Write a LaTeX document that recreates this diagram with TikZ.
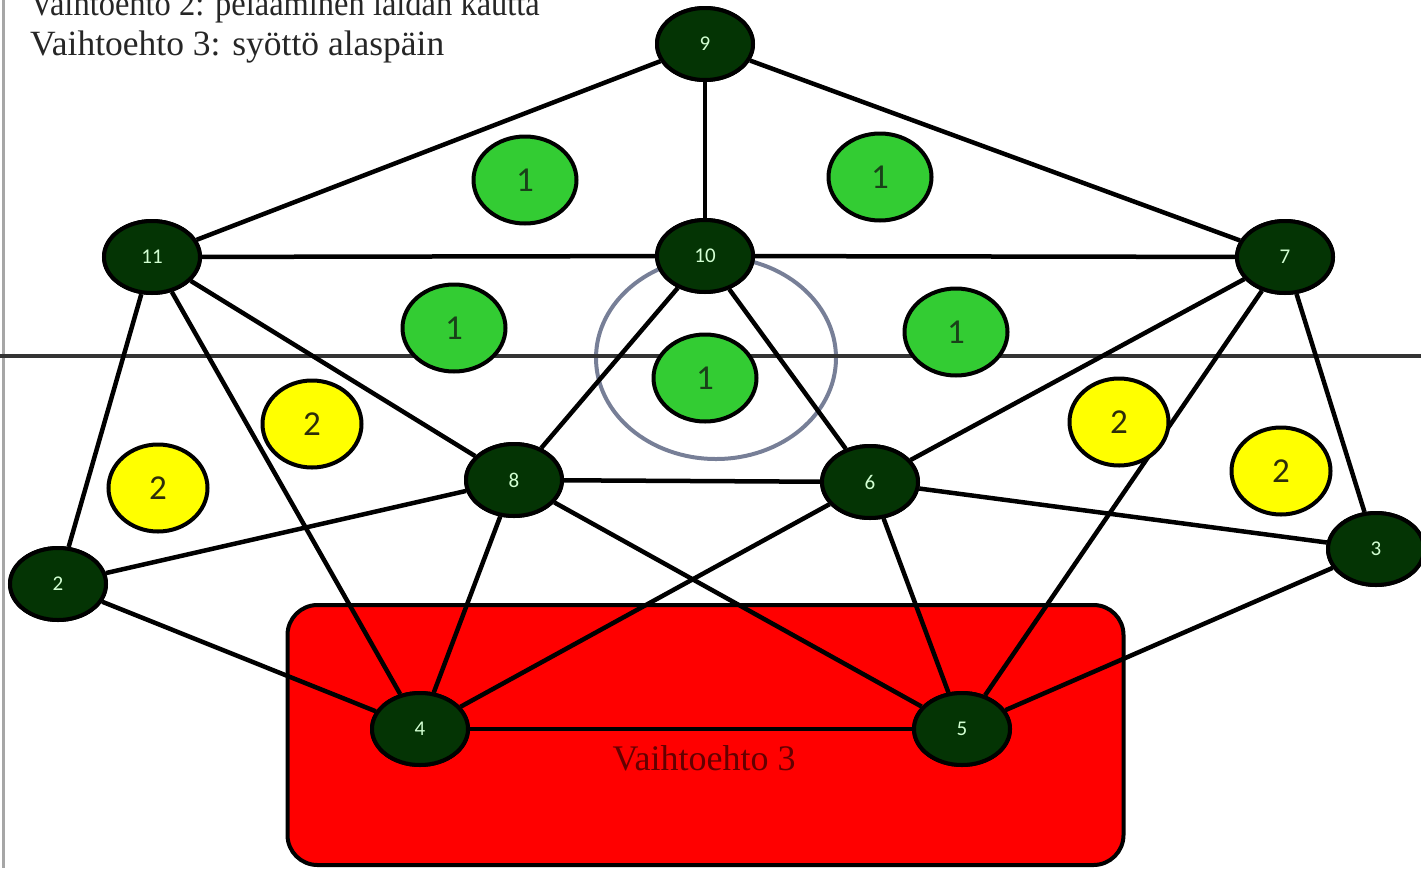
\documentclass[tikz,border=0pt]{standalone}
\usepackage{fontspec}
\setmainfont{Liberation Serif}
\newfontfamily\calib{Carlito}
\usetikzlibrary{shapes.geometric}
\definecolor{pnode}{RGB}{4,52,4}
\definecolor{pnodetxt}{RGB}{210,255,210}
\definecolor{lgreen}{RGB}{51,204,51}
\definecolor{lgreentxt}{RGB}{25,65,25}
\definecolor{yel}{RGB}{255,255,0}
\definecolor{yeltxt}{RGB}{45,45,10}
\definecolor{ringc}{RGB}{85,95,125}
\definecolor{captxt}{RGB}{100,0,0}
\tikzset{
  player/.style={ellipse, draw=black, line width=4pt, fill=pnode, minimum width=96pt, minimum height=72pt, inner sep=0pt, text=pnodetxt, font=\calib\fontsize{21}{21}\selectfont},
  zone1/.style={ellipse, draw=black, line width=4pt, fill=lgreen, minimum width=103pt, minimum height=87pt, inner sep=0pt, text=lgreentxt, font=\calib\fontsize{35}{35}\selectfont},
  zone2/.style={ellipse, draw=black, line width=4pt, fill=yel, minimum width=99pt, minimum height=87pt, inner sep=0pt, text=yeltxt, font=\calib\fontsize{35}{35}\selectfont},
  link/.style={draw=black, line width=4.5pt},
  toptext/.style={font=\fontsize{35.5}{35.5}\selectfont, text=black!85, inner sep=0pt}
}
\begin{document}
\begin{tikzpicture}[x=1pt,y=-1pt]
\useasboundingbox (0,0) rectangle (1421,868);
\begin{scope}
\clip (0,0) rectangle (1421,868);
% left border
\draw[line width=3pt, gray!70] (3,0) -- (3,868);
% top texts
\node[toptext, anchor=base west, xscale=0.915] (t1) at (30,15) {Vaihtoehto 2: pelaaminen laidan kautta};
\node[toptext, anchor=base west] (t2) at (30,55) {Vaihtoehto 3: syöttö alaspäin};
% center circle
\draw[line width=4pt, ringc, opacity=0.8] (716,358) ellipse [x radius=120, y radius=101];
% midline
\draw[line width=4.5pt, black!80] (0,356) -- (1421,356);
% red box
\node[draw=black, line width=4pt, fill=red, rounded corners=30pt, minimum width=836pt, minimum height=260pt, inner sep=0pt] (box) at (705.5,735) {};
\node[font=\fontsize{36}{36}\selectfont, text=captxt, anchor=base, inner sep=0pt] (cap) at (704,770) {Vaihtoehto 3};
\end{scope}
% players
\node[player] (n9) at (705,44) {9};
\node[player] (n11) at (152,257) {11};
\node[player] (n10) at (705,256) {10};
\node[player] (n7) at (1285,257) {7};
\node[player] (n8) at (514,480) {8};
\node[player] (n6) at (870,482) {6};
\node[player] (n2) at (58,584) {2};
\node[player] (n3) at (1376,549) {3};
\node[player] (n4) at (420,729) {4};
\node[player] (n5) at (962,729) {5};
% links
\foreach \a/\b in {n9/n11,n9/n10,n9/n7,n11/n10,n10/n7,n11/n2,n11/n4,n11/n8,n10/n8,n10/n6,n7/n6,n7/n5,n7/n3,n8/n6,n8/n2,n8/n4,n8/n5,n6/n4,n6/n5,n6/n3,n2/n4,n3/n5,n4/n5}
  \draw[link] (\a) -- (\b);
% zones
\node[zone1] (g1) at (525,180) {1};
\node[zone1] (g2) at (880,177) {1};
\node[zone1] (g3) at (454,328) {1};
\node[zone1] (g4) at (956,332) {1};
\node[zone1] (g5) at (705,378) {1};
\node[zone2] (y1) at (312,424) {2};
\node[zone2] (y2) at (158,488) {2};
\node[zone2] (y3) at (1119,422) {2};
\node[zone2] (y4) at (1281,471) {2};
% redraw players on top
\foreach \n/\x/\y/\t in {n9/705/44/9,n11/152/257/11,n10/705/256/10,n7/1285/257/7,n8/514/480/8,n6/870/482/6,n2/58/584/2,n3/1376/549/3,n4/420/729/4,n5/962/729/5}
  \node[player] at (\x,\y) {\t};
\end{tikzpicture}
\end{document}
